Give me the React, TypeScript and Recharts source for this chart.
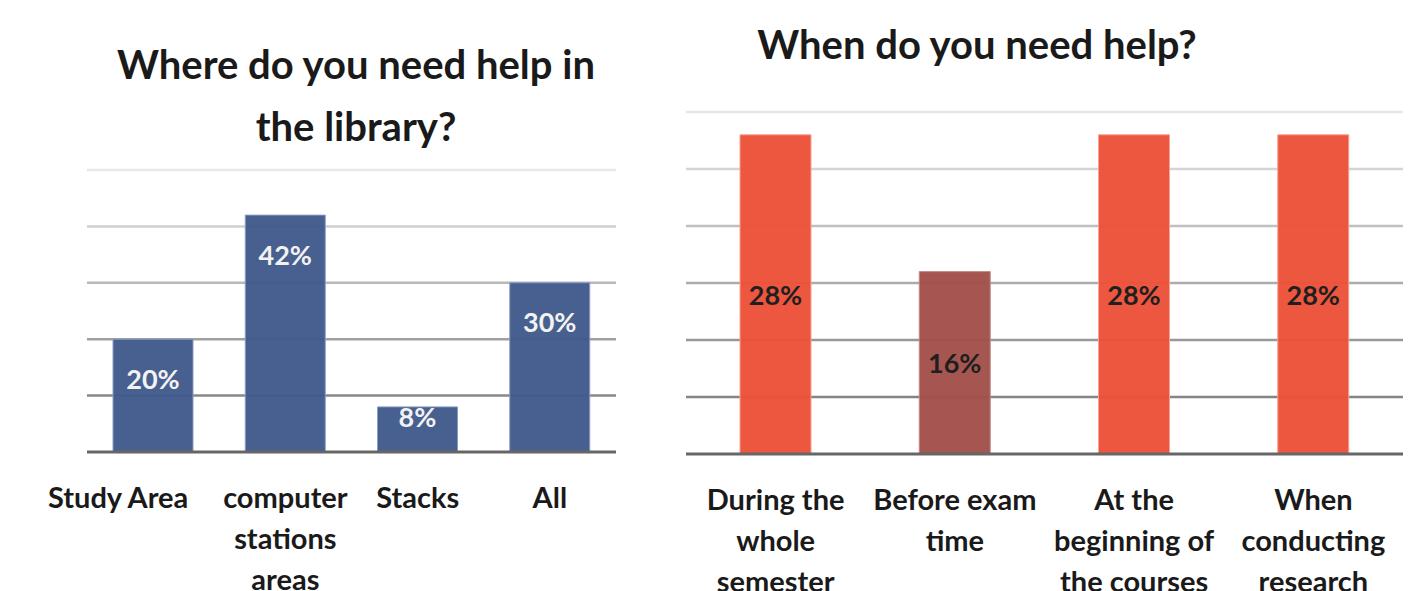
import React from "react";
import { BarChart, Bar, XAxis, YAxis, CartesianGrid, Cell, LabelList } from "recharts";

// left chart: where
const whereCategories = ["Study Area", "computer\nstations\nareas", "Stacks", "All"];
const whereValues = [20, 42, 8, 30];
const whereTicks = [0, 10, 20, 30, 40, 50];

// right chart: when
const whenCategories = [
  "During the\nwhole\nsemester",
  "Before exam\ntime",
  "At the\nbeginning of\nthe courses",
  "When\nconducting\nresearch",
];
const whenValues = [28, 16, 28, 28];
const whenTicks = [0, 5, 10, 15, 20, 25, 30];

const whereData = whereCategories.map((name, i) => ({ name, value: whereValues[i] }));
const whenData = whenCategories.map((name, i) => ({ name, value: whenValues[i] }));

const FONT = 'Lato, "Open Sans", sans-serif';
const BLUE = "#3f5a8a";
const RED = "#ec4f37";
const DARK_RED = "#a14f4a";
const whenColors = [RED, DARK_RED, RED, RED];

// gridlines get lighter towards the top
const gridLine = (p: any) => {
  const t = p.height ? (p.y + p.height - p.y1) / p.height : 0;
  if (t < 0.01) return <g key={p.key} />;
  const v = Math.round(112 + t * 120);
  return (
    <line
      key={p.key}
      x1={p.x1}
      y1={p.y1}
      x2={p.x2}
      y2={p.y2}
      stroke={`rgb(${v},${v},${v})`}
      strokeWidth={2.5}
    />
  );
};

const MultiLineTick = (props: any) => {
  const { x, y, payload, shift = 0 } = props;
  const lines = String(payload.value).split("\n");
  const cx = x + shift;
  return (
    <text
      x={cx}
      y={y}
      textAnchor="middle"
      fontFamily={FONT}
      fontWeight="bold"
      fontSize={29}
      fill="#1a1a1a"
    >
      {lines.map((l, i) => (
        <tspan key={i} x={cx} dy={i === 0 ? 56 : 41}>
          {l}
        </tspan>
      ))}
    </text>
  );
};

const whereLabel = (props: any) => {
  const { x, y, width, height, value } = props;
  const cy = y + (height > 80 ? 39 : 10);
  return (
    <text
      x={x + width / 2}
      y={cy}
      textAnchor="middle"
      dominantBaseline="central"
      fontFamily={FONT}
      fontWeight="bold"
      fontSize={27}
      fill="#f2f2f2"
    >
      {value}%
    </text>
  );
};

const whenLabel = (props: any) => {
  const { x, y, width, height, value } = props;
  return (
    <text
      x={x + width / 2}
      y={y + height / 2}
      textAnchor="middle"
      dominantBaseline="central"
      fontFamily={FONT}
      fontWeight="bold"
      fontSize={27}
      fill="#1f1f1f"
    >
      {value}%
    </text>
  );
};

const titleStyle: React.CSSProperties = {
  position: "absolute",
  fontFamily: FONT,
  fontWeight: "bold",
  fontSize: 40,
  lineHeight: "62px",
  textAlign: "center",
  whiteSpace: "nowrap",
  color: "#1a1a1a",
};

export default function App() {
  return (
    <div
      style={{
        position: "absolute",
        top: 0,
        left: 0,
        width: 1424,
        height: 591,
        background: "#fff",
        overflow: "hidden",
      }}
    >
      <div style={{ ...titleStyle, left: 56, top: 33, width: 600 }}>
        Where do you need help in
        <br />
        the library?
      </div>
      <div style={{ ...titleStyle, left: 677, top: 13, width: 600 }}>When do you need help?</div>

      <div style={{ position: "absolute", left: 0, top: 0 }}>
        <BarChart width={700} height={591} data={whereData} margin={{ top: 170, right: 84, bottom: 39, left: 87 }}>
          <CartesianGrid vertical={false} horizontal={gridLine} />
          <XAxis
            dataKey="name"
            height={100}
            tickLine={false}
            tickSize={0}
            tickMargin={0}
            interval={0}
            axisLine={{ stroke: "#666", strokeWidth: 3 }}
            tick={(p: any) => <MultiLineTick {...p} shift={p.index === 0 ? -35 : 0} />}
          />
          <YAxis hide type="number" domain={[0, 50]} ticks={whereTicks} />
          <Bar dataKey="value" barSize={80} fill={BLUE} stroke="#8a9cc0" strokeWidth={1} fillOpacity={0.96} isAnimationActive={false}>
            {whereData.map((_, i) => (
              <Cell key={`w-${i}`} fill={BLUE} />
            ))}
            <LabelList dataKey="value" content={whereLabel} />
          </Bar>
        </BarChart>
      </div>

      <div style={{ position: "absolute", left: 680, top: 0 }}>
        <BarChart width={744} height={591} data={whenData} margin={{ top: 112, right: 21, bottom: 37, left: 6 }}>
          <CartesianGrid vertical={false} horizontal={gridLine} />
          <XAxis
            dataKey="name"
            height={100}
            tickLine={false}
            tickSize={0}
            tickMargin={0}
            interval={0}
            axisLine={{ stroke: "#666", strokeWidth: 3 }}
            tick={(p: any) => <MultiLineTick {...p} />}
          />
          <YAxis hide type="number" domain={[0, 30]} ticks={whenTicks} />
          <Bar dataKey="value" barSize={71} fillOpacity={0.96} isAnimationActive={false}>
            {whenData.map((_, i) => (
              <Cell key={`h-${i}`} fill={whenColors[i]} stroke={i === 1 ? "#c08a85" : "#f5a393"} strokeWidth={1} />
            ))}
            <LabelList dataKey="value" content={whenLabel} />
          </Bar>
        </BarChart>
      </div>
    </div>
  );
}
